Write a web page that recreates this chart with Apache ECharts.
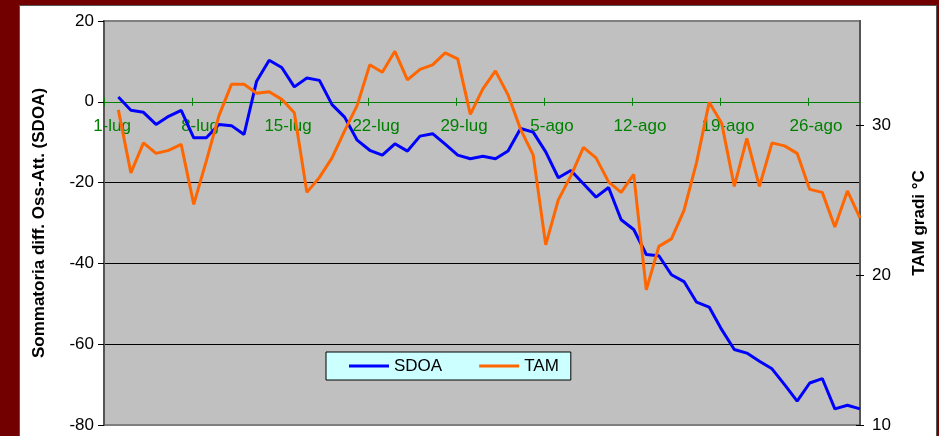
<!DOCTYPE html>
<html>
<head>
<meta charset="utf-8">
<script src="https://cdn.jsdelivr.net/npm/echarts@6/dist/echarts.min.js"></script>
<style>
  html, body { margin: 0; padding: 0; }
  #frame { position: relative; width: 939px; height: 436px; background: #720000; overflow: hidden; }
  #panel { position: absolute; left: 19px; top: 5px; width: 916px; height: 460px; background: #ffffff; border: 1px solid #555555; }
  #chart { position: absolute; left: 0; top: 0; width: 939px; height: 436px; }
</style>
</head>
<body>
<div id="frame"><div id="panel"></div><div id="chart"></div></div>
<script>
// Weekly date marks along the day axis
const weekLabels = ['1-lug', '8-lug', '15-lug', '22-lug', '29-lug', '5-ago', '12-ago', '19-ago', '26-ago'];

// Cumulative observed-minus-expected difference (left axis)
const sdoa = [1.2, -2.1, -2.6, -5.6, -3.6, -2.1, -8.9, -8.9, -5.6, -5.9,
  -8.1, 5.1, 10.3, 8.5, 3.7, 5.9, 5.3, -0.7, -3.8, -9.5,
  -12.0, -13.2, -10.4, -12.2, -8.5, -7.9, -10.5, -13.2, -14.1, -13.5,
  -14.1, -12.2, -6.6, -7.5, -12.4, -18.8, -17.0, -20.3, -23.6, -21.2,
  -29.2, -31.6, -37.8, -38.1, -42.8, -44.5, -49.6, -50.8, -56.4, -61.3,
  -62.2, -64.2, -66.1, -70.0, -74.1, -69.6, -68.5, -76.0, -75.1, -76.0];

// Mean daily temperature, °C (right axis)
const tam = [31.0, 26.8, 28.8, 28.1, 28.3, 28.7, 24.7, 27.6, 30.6, 32.7,
  32.7, 32.1, 32.2, 31.7, 30.8, 25.5, 26.5, 27.8, 29.6, 31.3,
  34.0, 33.5, 34.9, 33.0, 33.7, 34.0, 34.8, 34.4, 30.7, 32.4,
  33.6, 32.0, 29.7, 28.0, 22.0, 25.0, 26.6, 28.5, 27.8, 26.2,
  25.5, 26.7, 19.0, 21.9, 22.4, 24.3, 27.5, 31.5, 30.1, 25.9,
  29.1, 25.9, 28.8, 28.6, 28.1, 25.7, 25.5, 23.2, 25.6, 23.8];

const leftTicks = [-80, -60, -40, -20, 0, 20];
const rightTicks = [10, 20, 30];

// Plot rectangle
const G_LEFT = 104, G_TOP = 21, G_W = 756, G_H = 404;
const L_MIN = -80, L_MAX = 20;
// Distance from the plot bottom up to the zero line of the left axis
const ZERO_RISE = G_H * (0 - L_MIN) / (L_MAX - L_MIN);

// Day axis layout: weekly tick marks sit on day boundaries, labels mid-day
const X_MIN = -1.14, X_MAX = 59;
const TICK_START = -1.12, LABEL_START = -0.5, WEEK = 7;
const tickVals = weekLabels.map((_, k) => TICK_START + WEEK * k);
const labelVals = weekLabels.map((_, k) => LABEL_START + WEEK * k);

const FONT = '"Liberation Sans", Arial, sans-serif';
const GREEN = '#008000';

const chart = echarts.init(document.getElementById('chart'), null, { renderer: 'canvas' });

// Both day axes sit on the zero line of the left axis: one carries the
// outward ticks and labels, the other the inward half of each tick.
const xCommon = {
  type: 'value', min: X_MIN, max: X_MAX, gridIndex: 0,
  position: 'bottom', offset: -ZERO_RISE,
  axisLine: { show: true, onZero: false, lineStyle: { color: GREEN, width: 1 } },
  splitLine: { show: false }
};

chart.setOption({
  animation: false,
  textStyle: { fontFamily: FONT },
  grid: {
    left: G_LEFT, top: G_TOP, width: G_W, height: G_H,
    containLabel: false, outerBoundsMode: 'none',
    show: true, backgroundColor: '#C0C0C0', borderColor: '#808080', borderWidth: 2
  },
  legend: {
    left: 326, top: 352,
    data: ['SDOA', 'TAM'],
    icon: 'rect',
    itemWidth: 40, itemHeight: 3, itemGap: 37,
    padding: [5, 12, 5, 23],
    backgroundColor: '#CCFFFF', borderColor: '#000000', borderWidth: 1,
    textStyle: { fontFamily: FONT, fontSize: 17, color: '#000000', lineHeight: 18 }
  },
  xAxis: [
    Object.assign({}, xCommon, {
      axisTick: { show: true, inside: false, length: 4, customValues: tickVals, lineStyle: { color: GREEN } },
      axisLabel: {
        show: true, customValues: labelVals, margin: 16,
        color: GREEN, fontFamily: FONT, fontSize: 17,
        formatter: v => weekLabels[Math.round((v - LABEL_START) / WEEK)] || ''
      }
    }),
    Object.assign({}, xCommon, {
      axisTick: { show: true, inside: true, length: 4, customValues: tickVals, lineStyle: { color: GREEN } },
      axisLabel: { show: false }
    })
  ],
  yAxis: [
    {
      type: 'value', min: L_MIN, max: L_MAX, interval: 20, position: 'left',
      name: 'Sommatoria diff. Oss-Att. (SDOA)',
      nameLocation: 'middle', nameRotate: 90, nameGap: 56,
      nameTextStyle: { fontFamily: FONT, fontSize: 17, fontWeight: 'bold', color: '#000000' },
      axisLine: { show: true, onZero: false, lineStyle: { color: '#555555', width: 2 } },
      axisTick: { show: true, length: 6, lineStyle: { color: '#000000' } },
      axisLabel: { margin: 10, color: '#000000', fontFamily: FONT, fontSize: 17 },
      splitLine: { show: true, showMinLine: false, showMaxLine: false, lineStyle: { color: '#000000', width: 1 } }
    },
    {
      type: 'value', min: 10, max: 36.92, interval: 10, position: 'right',
      name: 'TAM gradi °C',
      nameLocation: 'middle', nameRotate: 90, nameGap: 51,
      nameTextStyle: { fontFamily: FONT, fontSize: 17, fontWeight: 'bold', color: '#000000' },
      axisLine: { show: true, onZero: false, lineStyle: { color: '#555555', width: 2 } },
      axisTick: { show: true, length: 4, customValues: rightTicks, lineStyle: { color: '#000000' } },
      axisLabel: { margin: 12, customValues: rightTicks, color: '#000000', fontFamily: FONT, fontSize: 17 },
      splitLine: { show: false }
    },
    {
      type: 'value', min: 10, max: 36.92, interval: 10, position: 'right',
      axisLine: { show: false, onZero: false },
      axisTick: { show: true, inside: true, length: 4, customValues: rightTicks, lineStyle: { color: '#000000' } },
      axisLabel: { show: false },
      splitLine: { show: false }
    }
  ],
  series: [
    {
      name: 'SDOA', type: 'line', xAxisIndex: 0, yAxisIndex: 0,
      data: sdoa.map((v, i) => [i, v]),
      symbol: 'none', color: '#0000FF',
      lineStyle: { color: '#0000FF', width: 3 }
    },
    {
      name: 'TAM', type: 'line', xAxisIndex: 0, yAxisIndex: 1,
      data: tam.map((v, i) => [i, v]),
      symbol: 'none', color: '#FF6600',
      lineStyle: { color: '#FF6600', width: 3 }
    }
  ]
});
</script>
</body>
</html>
